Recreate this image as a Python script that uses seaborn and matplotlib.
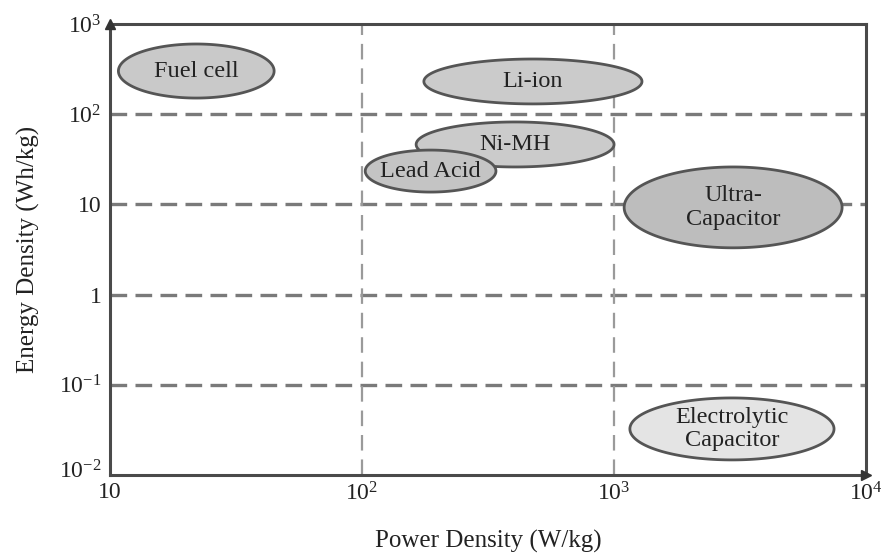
import numpy as np
import matplotlib
matplotlib.use("Agg")
import matplotlib.pyplot as plt
import matplotlib.transforms as mtransforms
import seaborn as sns

# storage technologies, read as ranges off the log-log plot
names = ["Fuel cell", "Li-ion", "Ni-MH", "Lead Acid", "Ultra-\nCapacitor", "Electrolytic\nCapacitor"]
power_lo = [10.8, 176, 164, 103, 1097, 1156]      # W/kg
power_hi = [44.8, 1291, 1000, 340, 8035, 7464]
energy_lo = [151, 130, 26, 13.7, 3.3, 0.0147]     # Wh/kg
energy_hi = [600, 409, 82, 40, 26, 0.0715]
fills = ["#c9c9c9", "#cbcbcb", "#cbcbcb", "#c4c4c4", "#bdbdbd", "#e4e4e4"]

x_ticks = [10, 100, 1000, 10000]
x_labels = ["10", r"$\mathregular{10^2}$", r"$\mathregular{10^3}$", r"$\mathregular{10^4}$"]
y_ticks = [0.01, 0.1, 1, 10, 100, 1000]
y_labels = [r"$\mathregular{10^{-2}}$", r"$\mathregular{10^{-1}}$", "1", "10",
            r"$\mathregular{10^2}$", r"$\mathregular{10^3}$"]

sns.set_theme(style="white")
plt.rcParams["font.family"] = ["Liberation Serif", "DejaVu Serif"]
plt.rcParams["mathtext.fontset"] = "custom"
plt.rcParams["mathtext.rm"] = "Liberation Serif"

fig = plt.figure(figsize=(8.82, 5.54), dpi=100)
ax = fig.add_axes([0.1247, 0.1426, 0.8572, 0.8141])
ax.set_xscale("log")
ax.set_yscale("log")
ax.set_xlim(10, 10000)
ax.set_ylim(0.01, 1000)

# dashed grid
for y in [0.1, 1, 10, 100]:
    ax.axhline(y, color="#7a7a7a", lw=2.4, ls=(0, (5, 2.5)), zorder=1)
for x in [100, 1000]:
    ax.axvline(x, color="#9a9a9a", lw=1.6, ls=(0, (7, 4)), zorder=1)

# ellipses drawn in log space
t = np.linspace(0, 2 * np.pi, 300)
for i, name in enumerate(names):
    cx = (np.log10(power_lo[i]) + np.log10(power_hi[i])) / 2
    rx = (np.log10(power_hi[i]) - np.log10(power_lo[i])) / 2
    cy = (np.log10(energy_lo[i]) + np.log10(energy_hi[i])) / 2
    ry = (np.log10(energy_hi[i]) - np.log10(energy_lo[i])) / 2
    ex = 10 ** (cx + rx * np.cos(t))
    ey = 10 ** (cy + ry * np.sin(t))
    ax.fill(ex, ey, facecolor=fills[i], edgecolor="#555555", lw=2, zorder=2 + i)
    ax.text(10 ** cx, 10 ** cy, name, ha="center", va="center", fontsize=17.5,
            color="#222222", linespacing=1.15, zorder=10)

ax.set_xticks(x_ticks)
ax.set_xticklabels(x_labels)
ax.set_yticks(y_ticks)
ax.set_yticklabels(y_labels)
ax.minorticks_off()
ax.tick_params(axis="both", length=0, labelsize=17, colors="#222222")
ax.tick_params(axis="x", pad=5)
ax.tick_params(axis="y", pad=6)

# lift the bottom y label a little so it clears the "10" below it
lift = mtransforms.ScaledTranslation(0, 6 / 100, fig.dpi_scale_trans)
ylab0 = ax.get_yticklabels()[0]
ylab0.set_transform(ylab0.get_transform() + lift)

for s in ax.spines.values():
    s.set_color("#4a4a4a")
    s.set_linewidth(2.2)
    s.set_visible(True)

# arrow heads at axis ends
ax.plot([10], [1000], marker="^", color="#333333", ms=7, clip_on=False, zorder=20)
ax.plot([10000], [0.01], marker=">", color="#333333", ms=7, clip_on=False, zorder=20)

ax.set_xlabel("Power Density (W/kg)", fontsize=18, color="#222222", labelpad=18)
ax.set_ylabel("Energy Density (Wh/kg)", fontsize=18, color="#222222", labelpad=14)

fig.savefig("out.png", dpi=100)
